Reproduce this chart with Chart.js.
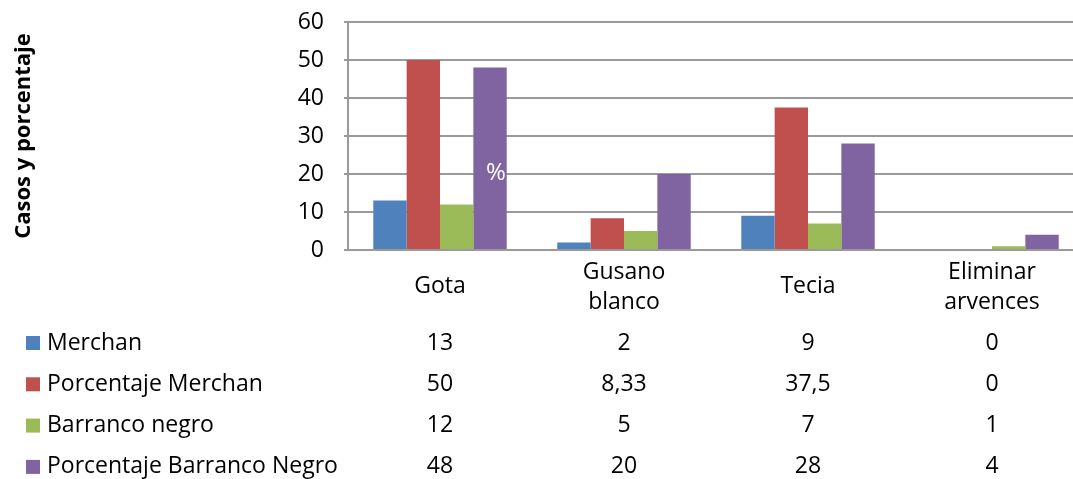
<!DOCTYPE html>
<html>
<head>
<meta charset="utf-8">
<script src="https://cdn.jsdelivr.net/npm/chart.js@4"></script>
<style>
  html, body { margin: 0; padding: 0; background: #fff; overflow: hidden; }
  #wrap { width: 1073px; height: 479px; overflow: hidden; }
</style>
</head>
<body>
<div id="wrap"><canvas id="c" width="1086" height="479"></canvas></div>
<script>
// Categories (two-line labels as arrays)
const categories = ['Gota', ['Gusano', 'blanco'], 'Tecia', ['Eliminar', 'arvences']];

// Series
const merchan = [13, 2, 9, 0];
const porcentajeMerchan = [50, 8.33, 37.5, 0];
const barrancoNegro = [12, 5, 7, 1];
const porcentajeBarrancoNegro = [48, 20, 28, 4];

const seriesNames = ['Merchan', 'Porcentaje Merchan', 'Barranco negro', 'Porcentaje Barranco Negro'];
const seriesColors = ['#4F81BD', '#C0504D', '#9BBB59', '#8064A2'];

// Y axis ticks
const yTicks = [0, 10, 20, 30, 40, 50, 60];
const yTitle = 'Casos y porcentaje';

const FONT = "'Open Sans', sans-serif";
const TXT = '#000000';
const GRID = '#9a9a9a';

const fmt = v => String(v).replace('.', ',');

// Draws the axis title, category labels, the data table with legend keys, and the stray "%" mark
const tablePlugin = {
  id: 'dataTable',
  afterDraw(chart) {
    const ctx = chart.ctx;
    const xs = chart.scales.x;
    ctx.save();

    // y axis title
    ctx.fillStyle = TXT;
    ctx.font = `bold 22px ${FONT}`;
    ctx.textAlign = 'center';
    ctx.textBaseline = 'middle';
    ctx.translate(24, 136);
    ctx.rotate(-Math.PI / 2);
    ctx.fillText(yTitle, 0, 0);
    ctx.setTransform(1, 0, 0, 1, 0, 0);

    // category labels
    ctx.font = `23px ${FONT}`;
    ctx.textAlign = 'center';
    ctx.textBaseline = 'middle';
    categories.forEach((c, j) => {
      const x = xs.getPixelForValue(j);
      if (Array.isArray(c)) {
        ctx.fillText(c[0], x, 272);
        ctx.fillText(c[1], x, 302);
      } else {
        ctx.fillText(c, x, 286);
      }
    });

    // table rows
    chart.data.datasets.forEach((ds, i) => {
      const y = 343 + i * 41.3;
      ctx.fillStyle = ds.backgroundColor;
      ctx.fillRect(26, y - 7, 14, 14);
      ctx.fillStyle = TXT;
      ctx.textAlign = 'left';
      ctx.fillText(ds.label, 47, y);
      ctx.textAlign = 'center';
      ds.data.forEach((v, j) => {
        ctx.fillText(fmt(v), xs.getPixelForValue(j), y);
      });
    });

    // white "%" on the purple Gota bar
    const bar = chart.getDatasetMeta(3).data[0];
    ctx.fillStyle = '#ffffff';
    ctx.font = `24px ${FONT}`;
    ctx.textAlign = 'center';
    ctx.fillText('%', bar.x + 6, chart.scales.y.getPixelForValue(20.2));
    ctx.restore();
  }
};

new Chart(document.getElementById('c'), {
  type: 'bar',
  data: {
    labels: categories,
    datasets: [
      { label: seriesNames[0], data: merchan, backgroundColor: seriesColors[0] },
      { label: seriesNames[1], data: porcentajeMerchan, backgroundColor: seriesColors[1] },
      { label: seriesNames[2], data: barrancoNegro, backgroundColor: seriesColors[2] },
      { label: seriesNames[3], data: porcentajeBarrancoNegro, backgroundColor: seriesColors[3] }
    ]
  },
  options: {
    responsive: false,
    animation: false,
    devicePixelRatio: 1,
    layout: { padding: { left: 0, top: 22, right: 2, bottom: 229 } },
    datasets: { bar: { categoryPercentage: 0.725, barPercentage: 1.0, borderWidth: 0 } },
    plugins: { legend: { display: false }, tooltip: { enabled: false } },
    scales: {
      x: {
        ticks: { display: false },
        grid: { display: false, drawTicks: false },
        border: { display: true, color: GRID, width: 2 },
        afterFit(scale) {
          scale.height = 0;
          scale.paddingLeft = 0; scale.paddingRight = 0;
        }
      },
      y: {
        min: 0,
        max: 60,
        afterBuildTicks(scale) { scale.ticks = yTicks.map(v => ({ value: v })); },
        ticks: { color: TXT, font: { family: FONT, size: 23 }, padding: 20 },
        grid: { color: GRID, lineWidth: 2, drawTicks: true, tickLength: 4 },
        border: { display: true, color: GRID, width: 2 },
        afterFit(scale) {
          scale.width = 348;
          scale.paddingTop = 0; scale.paddingBottom = 0;
        }
      }
    }
  },
  plugins: [tablePlugin]
});
</script>
</body>
</html>
